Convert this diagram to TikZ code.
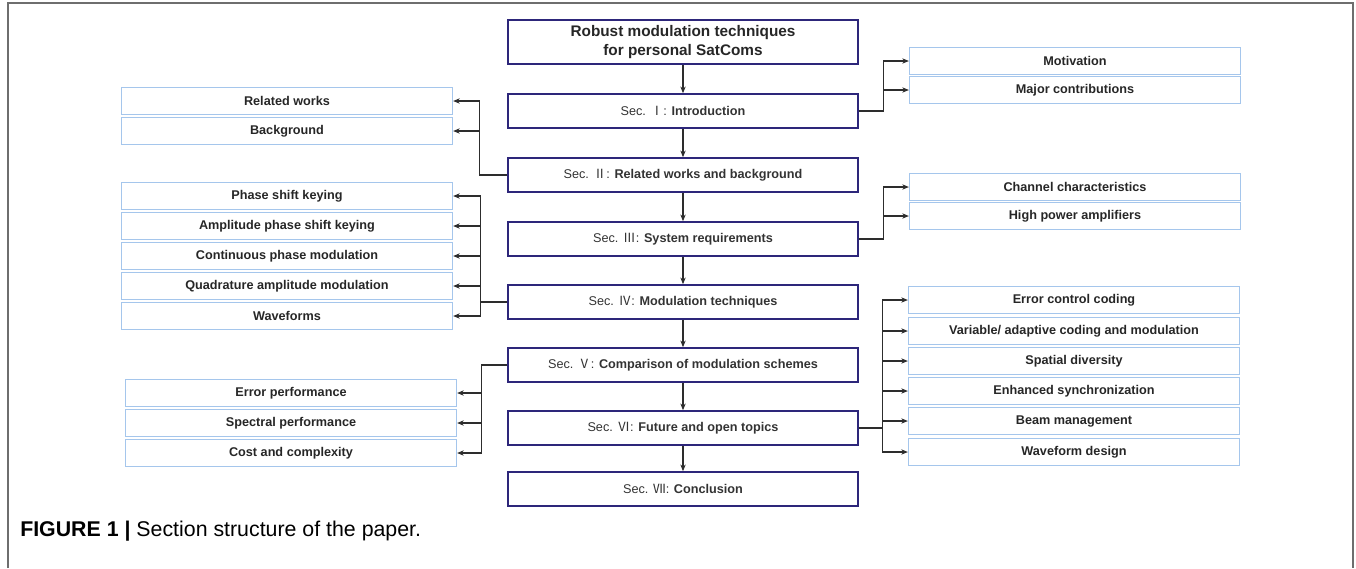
\documentclass[tikz,border=0pt]{standalone}
\usepackage{fontspec}
\setmainfont{Liberation Sans}
\newfontfamily\cjk{Noto Sans CJK SC}
\usetikzlibrary{arrows.meta}

\definecolor{secnavy}{RGB}{45,38,122}
\definecolor{sublight}{RGB}{165,198,236}
\definecolor{lineink}{RGB}{45,45,45}
\definecolor{framegray}{RGB}{110,110,110}

\tikzset{
	secbox/.style={draw=secnavy, line width=1.7pt, minimum width=262pt, minimum height=25pt,
		inner sep=0pt, font=\fontsize{9.5}{11}\selectfont, text=black!80},
	subbox/.style={draw=sublight, line width=1.2pt, minimum width=248pt, minimum height=20pt,
		inner sep=0pt, font=\fontsize{9.5}{11}\selectfont\bfseries, text=black!85},
	conn/.style={draw=lineink, line width=0.8pt},
	arr/.style={conn, -{Stealth[length=5pt,width=4pt]}}
}

\begin{document}
\begin{tikzpicture}[x=0.75pt,y=-0.75pt]
		\useasboundingbox (0,0) rectangle (1356,568);

		% frame
		\draw	[framegray, line width=1.1pt] (8,568) -- (8,3) -- (1353,3) -- (1353,568);

		% main sections
		\node	[secbox, minimum height=33pt, align=center, text=black!85,
				font=\fontsize{11.5}{13.8}\selectfont\bfseries]
				(title)	at (683,42)	{Robust modulation techniques\\for personal SatComs};
		\node	[secbox] (sec1) at (683,111) {Sec. {\cjk Ⅰ}: \textbf{Introduction}};
		\node	[secbox] (sec2) at (683,175) {Sec. {\cjk Ⅱ}: \textbf{Related works and background}};
		\node	[secbox] (sec3) at (683,239) {Sec. {\cjk Ⅲ}: \textbf{System requirements}};
		\node	[secbox] (sec4) at (683,302) {Sec. {\cjk Ⅳ}: \textbf{Modulation techniques}};
		\node	[secbox] (sec5) at (683,365) {Sec. {\cjk Ⅴ}: \textbf{Comparison of modulation schemes}};
		\node	[secbox] (sec6) at (683,428) {Sec. {\cjk Ⅵ}: \textbf{Future and open topics}};
		\node	[secbox] (sec7) at (683,489) {Sec. {\cjk Ⅶ}: \textbf{Conclusion}};

		% left sub-topics
		\node	[subbox] (relw)	at (287,101) {Related works};
		\node	[subbox] (bgnd)	at (287,131) {Background};
		\node	[subbox] (psk)	at (287,196) {Phase shift keying};
		\node	[subbox] (apsk)	at (287,226) {Amplitude phase shift keying};
		\node	[subbox] (cpm)	at (287,256) {Continuous phase modulation};
		\node	[subbox] (qam)	at (287,286) {Quadrature amplitude modulation};
		\node	[subbox] (wavef)	at (287,316) {Waveforms};
		\node	[subbox] (errp)	at (291,393) {Error performance};
		\node	[subbox] (spec)	at (291,423) {Spectral performance};
		\node	[subbox] (cost)	at (291,453) {Cost and complexity};

		% right sub-topics
		\node	[subbox] (motiv)	at (1075,61)	{Motivation};
		\node	[subbox] (contr)	at (1075,90)	{Major contributions};
		\node	[subbox] (chan)	at (1075,187)	{Channel characteristics};
		\node	[subbox] (hpa)	at (1075,216)	{High power amplifiers};
		\node	[subbox] (ecc)	at (1074,300)	{Error control coding};
		\node	[subbox] (acm)	at (1074,331)	{Variable/ adaptive coding and modulation};
		\node	[subbox] (spat)	at (1074,361)	{Spatial diversity};
		\node	[subbox] (sync)	at (1074,391)	{Enhanced synchronization};
		\node	[subbox] (beam)	at (1074,421)	{Beam management};
		\node	[subbox] (wdes)	at (1074,452)	{Waveform design};

		% main flow
		\draw	[arr] (title) -- (sec1);
		\draw	[arr] (sec1) -- (sec2);
		\draw	[arr] (sec2) -- (sec3);
		\draw	[arr] (sec3) -- (sec4);
		\draw	[arr] (sec4) -- (sec5);
		\draw	[arr] (sec5) -- (sec6);
		\draw	[arr] (sec6) -- (sec7);

		% branches to the left
		\draw	[arr] (sec2.west) -- ++(-28,0) |- (relw.east);
		\draw	[arr] (sec2.west) -- ++(-28,0) |- (bgnd.east);
		\draw	[arr] (sec4.west) -- ++(-27,0) |- (psk.east);
		\draw	[arr] (sec4.west) -- ++(-27,0) |- (apsk.east);
		\draw	[arr] (sec4.west) -- ++(-27,0) |- (cpm.east);
		\draw	[arr] (sec4.west) -- ++(-27,0) |- (qam.east);
		\draw	[arr] (sec4.west) -- ++(-27,0) |- (wavef.east);
		\draw	[arr] (sec5.west) -- ++(-26,0) |- (errp.east);
		\draw	[arr] (sec5.west) -- ++(-26,0) |- (spec.east);
		\draw	[arr] (sec5.west) -- ++(-26,0) |- (cost.east);

		% branches to the right
		\draw	[arr] (sec1.east) -- ++(25,0) |- (motiv.west);
		\draw	[arr] (sec1.east) -- ++(25,0) |- (contr.west);
		\draw	[arr] (sec3.east) -- ++(25,0) |- (chan.west);
		\draw	[arr] (sec3.east) -- ++(25,0) |- (hpa.west);
		\draw	[arr] (sec6.east) -- ++(24,0) |- (ecc.west);
		\draw	[arr] (sec6.east) -- ++(24,0) |- (acm.west);
		\draw	[arr] (sec6.east) -- ++(24,0) |- (spat.west);
		\draw	[arr] (sec6.east) -- ++(24,0) |- (sync.west);
		\draw	[arr] (sec6.east) -- ++(24,0) |- (beam.west);
		\draw	[arr] (sec6.east) -- ++(24,0) |- (wdes.west);

		% caption
		\node	[anchor=base west, inner sep=0pt, font=\fontsize{16}{19}\selectfont]
				(capt) at (20,536) {\textbf{FIGURE 1 |} Section structure of the paper.};
\end{tikzpicture}
\end{document}
